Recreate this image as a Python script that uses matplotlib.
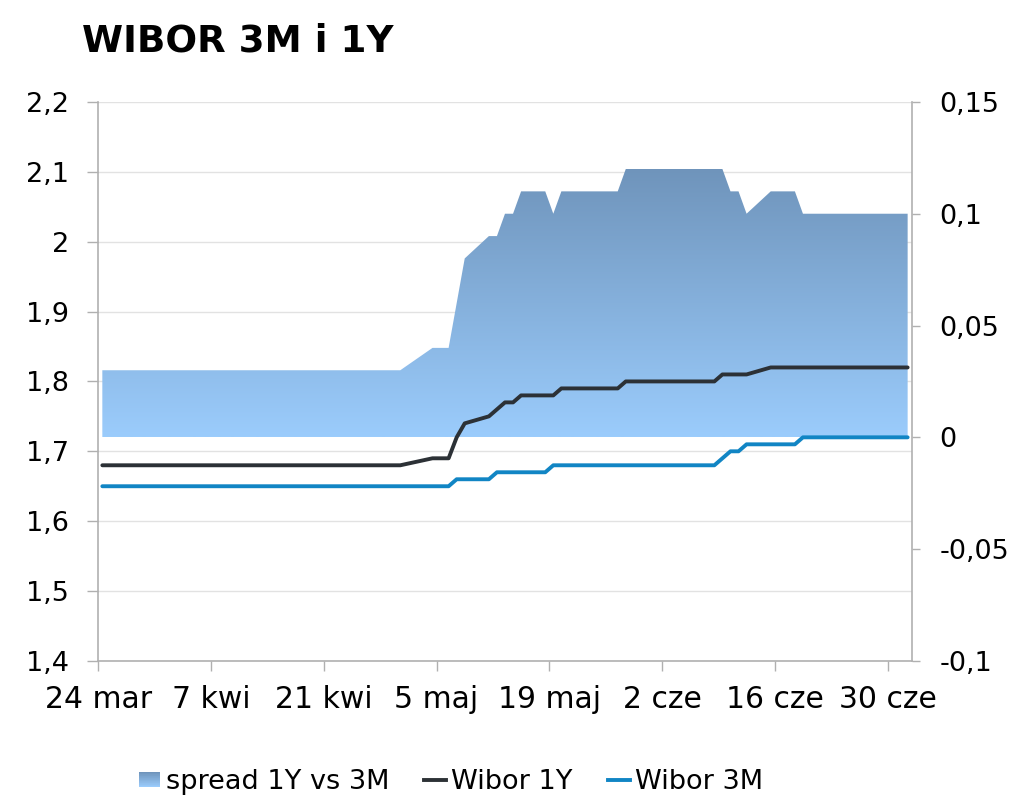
import numpy as np
import pandas as pd
import matplotlib
matplotlib.use('Agg')
import matplotlib.pyplot as plt
from matplotlib.ticker import FuncFormatter, MultipleLocator
from matplotlib.patches import Rectangle, PathPatch
from matplotlib.path import Path
from matplotlib.legend_handler import HandlerBase
from matplotlib.lines import Line2D
from matplotlib.colors import LinearSegmentedColormap

plt.rcParams['font.family'] = 'DejaVu Sans'

# ── data (fixing days, 2015), one row per month ──────────────────────────
mar = [24, 25, 26, 27, 30, 31]
apr = [1, 2, 3, 7, 8, 9, 10, 13, 14, 15, 16, 17, 20, 21, 22, 23, 24, 27, 28, 29, 30]
may = [4, 5, 6, 7, 8, 11, 12, 13, 14, 15, 18, 19, 20, 21, 22, 25, 26, 27, 28, 29]
jun = [1, 2, 3, 5, 8, 9, 10, 11, 12, 15, 16, 17, 18, 19, 22, 23, 24, 25, 26, 29, 30]
jul = [1, 2]

wibor_1y = (
    [1.68, 1.68, 1.68, 1.68, 1.68, 1.68] +
    [1.68, 1.68, 1.68, 1.68, 1.68, 1.68, 1.68, 1.68, 1.68, 1.68, 1.68,
     1.68, 1.68, 1.68, 1.68, 1.68, 1.68, 1.68, 1.68, 1.68, 1.68] +
    [1.69, 1.69, 1.69, 1.72, 1.74, 1.75, 1.76, 1.77, 1.77, 1.78,
     1.78, 1.78, 1.79, 1.79, 1.79, 1.79, 1.79, 1.79, 1.80, 1.80] +
    [1.80, 1.80, 1.80, 1.80, 1.80, 1.81, 1.81, 1.81, 1.81, 1.82, 1.82,
     1.82, 1.82, 1.82, 1.82, 1.82, 1.82, 1.82, 1.82, 1.82, 1.82] +
    [1.82, 1.82]
)
wibor_3m = (
    [1.65, 1.65, 1.65, 1.65, 1.65, 1.65] +
    [1.65, 1.65, 1.65, 1.65, 1.65, 1.65, 1.65, 1.65, 1.65, 1.65, 1.65,
     1.65, 1.65, 1.65, 1.65, 1.65, 1.65, 1.65, 1.65, 1.65, 1.65] +
    [1.65, 1.65, 1.65, 1.66, 1.66, 1.66, 1.67, 1.67, 1.67, 1.67,
     1.67, 1.68, 1.68, 1.68, 1.68, 1.68, 1.68, 1.68, 1.68, 1.68] +
    [1.68, 1.68, 1.68, 1.68, 1.68, 1.69, 1.70, 1.70, 1.71, 1.71, 1.71,
     1.71, 1.71, 1.72, 1.72, 1.72, 1.72, 1.72, 1.72, 1.72, 1.72] +
    [1.72, 1.72]
)
spread = (
    [0.03, 0.03, 0.03, 0.03, 0.03, 0.03] +
    [0.03, 0.03, 0.03, 0.03, 0.03, 0.03, 0.03, 0.03, 0.03, 0.03, 0.03,
     0.03, 0.03, 0.03, 0.03, 0.03, 0.03, 0.03, 0.03, 0.03, 0.03] +
    [0.04, 0.04, 0.04, 0.06, 0.08, 0.09, 0.09, 0.10, 0.10, 0.11,
     0.11, 0.10, 0.11, 0.11, 0.11, 0.11, 0.11, 0.11, 0.12, 0.12] +
    [0.12, 0.12, 0.12, 0.12, 0.12, 0.12, 0.11, 0.11, 0.10, 0.11, 0.11,
     0.11, 0.11, 0.10, 0.10, 0.10, 0.10, 0.10, 0.10, 0.10, 0.10] +
    [0.10, 0.10]
)
tick_labels = ['24 mar', '7 kwi', '21 kwi', '5 maj', '19 maj', '2 cze', '16 cze', '30 cze']

dates = pd.to_datetime(
    [f'2015-03-{d:02d}' for d in mar] + [f'2015-04-{d:02d}' for d in apr] +
    [f'2015-05-{d:02d}' for d in may] + [f'2015-06-{d:02d}' for d in jun] +
    [f'2015-07-{d:02d}' for d in jul])
x = np.asarray((dates - dates[0]).days, dtype=float) + 0.5
spread = np.array(spread)

# colours
C_1Y = '#2c3136'
C_3M = '#1185c4'
AXIS_GRAY = '#b0b0b0'
GRID_GRAY = '#e2e2e2'
grad_cmap = LinearSegmentedColormap.from_list('spr', ['#9bccfc', '#6f94bb'])


def comma_fmt(v, pos):
    s = f'{round(v, 3):g}'
    if s == '-0':
        s = '0'
    return s.replace('.', ',')


fig = plt.figure(figsize=(10.24, 8.07), dpi=100)
ax = fig.add_axes([0.096, 0.181, 0.7943, 0.6927])   # left scale + grid
ax2 = ax.twinx()                                    # right scale + spread area
ax3 = ax.twinx()                                    # lines (left scale)

xmax = x[-1] + 0.5

# ── grid / left axis ─────────────────────────────────────────────────────
ax.set_ylim(1.4, 2.2)
ax.yaxis.set_major_locator(MultipleLocator(0.1))
ax.yaxis.set_major_formatter(FuncFormatter(comma_fmt))
ax.set_xlim(0, xmax)
ax.set_xticks(np.arange(0, 99, 14))
ax.set_xticklabels(tick_labels)
ax.grid(axis='y', color=GRID_GRAY, lw=1.0)
ax.set_axisbelow(True)
for s in ['top', 'right']:
    ax.spines[s].set_visible(False)
for s in ['left', 'bottom']:
    ax.spines[s].set_color(AXIS_GRAY)
    ax.spines[s].set_linewidth(1.2)
ax.tick_params(axis='y', length=8, width=1.0, color=AXIS_GRAY, labelsize=19.5, pad=13)
ax.tick_params(axis='x', length=7, width=1.0, color=AXIS_GRAY, labelsize=21.5, pad=10)

# ── spread area with vertical gradient ───────────────────────────────────
verts = [(x[0], 0.0)] + list(zip(x, spread)) + [(x[-1], 0.0), (x[0], 0.0)]
codes = [Path.MOVETO] + [Path.LINETO] * (len(verts) - 2) + [Path.CLOSEPOLY]
clip = PathPatch(Path(verts, codes), transform=ax2.transData,
                 facecolor='none', edgecolor='none')
ax2.add_patch(clip)
grad = np.linspace(0, 1, 256).reshape(-1, 1)
im = ax2.imshow(grad, extent=[x[0], x[-1], 0, spread.max()], origin='lower',
                aspect='auto', cmap=grad_cmap, interpolation='bilinear')
im.set_clip_path(clip)
ax2.set_ylim(-0.1, 0.15)
ax2.set_xlim(0, xmax)
ax2.yaxis.set_major_locator(MultipleLocator(0.05))
ax2.yaxis.set_major_formatter(FuncFormatter(comma_fmt))
for s in ['top', 'left', 'bottom']:
    ax2.spines[s].set_visible(False)
ax2.spines['right'].set_color(AXIS_GRAY)
ax2.spines['right'].set_linewidth(1.2)
ax2.tick_params(axis='y', length=6, width=1.0, color=AXIS_GRAY, labelsize=19.5, pad=14)

# ── rate lines ───────────────────────────────────────────────────────────
ax3.plot(x, wibor_1y, color=C_1Y, lw=2.8, solid_capstyle='round', solid_joinstyle='round')
ax3.plot(x, wibor_3m, color=C_3M, lw=2.8, solid_capstyle='round', solid_joinstyle='round')
ax3.set_ylim(1.4, 2.2)
ax3.set_xlim(0, xmax)
ax3.axis('off')

# ── title ────────────────────────────────────────────────────────────────
fig.text(82 / 1024, 1 - 52 / 807, 'WIBOR 3M i 1Y', fontsize=26.8, fontweight='bold',
         ha='left', va='baseline')


# ── legend ───────────────────────────────────────────────────────────────
class GradientHandler(HandlerBase):
    def create_artists(self, legend, orig_handle, xdescent, ydescent,
                       width, height, fontsize, trans):
        n = 24
        h = height * 0.8
        y0 = -ydescent + (height - h) / 2
        arts = []
        for i in range(n):
            arts.append(Rectangle((-xdescent, y0 + i * h / n), width, h / n * 1.05,
                                  facecolor=grad_cmap(i / (n - 1)), edgecolor='none',
                                  transform=trans))
        return arts


grad_handle = Rectangle((0, 0), 1, 1)
h1 = Line2D([], [], color=C_1Y, lw=2.8)
h3 = Line2D([], [], color=C_3M, lw=2.8)
fig.legend([grad_handle, h1, h3], ['spread 1Y vs 3M', 'Wibor 1Y', 'Wibor 3M'],
           handler_map={grad_handle: GradientHandler()},
           loc='center', bbox_to_anchor=(0.4404, 1 - 782 / 807), ncol=3, frameon=False,
           fontsize=19.5, handlelength=0.8, handleheight=0.7, handletextpad=0.2,
           columnspacing=1.3)

fig.savefig('out.png', dpi=100, facecolor='white')
